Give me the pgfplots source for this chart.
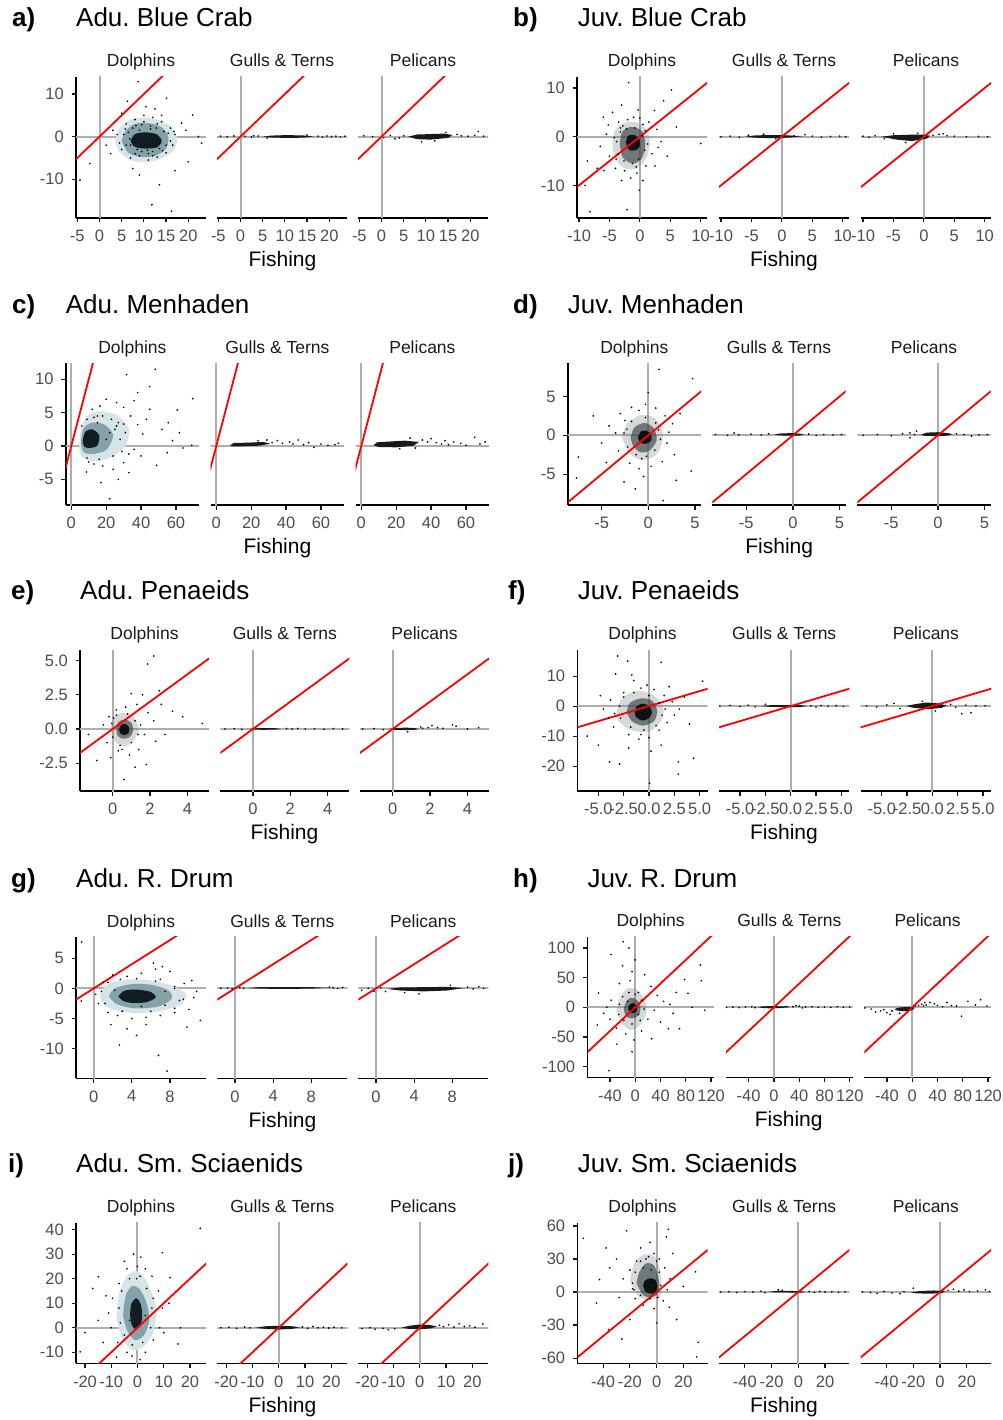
\documentclass[border=0pt]{standalone}
\usepackage{fontspec}
\setmainfont{Liberation Sans}
\usepackage{pgfplots}
\pgfplotsset{compat=1.18}
\frenchspacing
\definecolor{gray30}{HTML}{4D4D4D}
\definecolor{gray10}{HTML}{1A1A1A}
\definecolor{zlc}{HTML}{AEAEAE}
\definecolor{hteal}{RGB}{214,228,231}
\definecolor{mteal}{RGB}{96,134,143}
\definecolor{cteal}{RGB}{16,30,35}
\definecolor{hdark}{RGB}{120,130,132}
\definecolor{mdark}{RGB}{45,55,58}
\definecolor{cdark}{RGB}{12,18,20}
\newcommand\tickfont{\fontsize{16.5}{16.5}\selectfont}
\newcommand\stripfont{\fontsize{17.5}{17.5}\selectfont}
\newcommand\titlefont{\fontsize{26}{26}\selectfont}
\newcommand\labfont{\fontsize{21}{21}\selectfont}

\pgfplotsset{
  base/.style={scale only axis, anchor=south west, clip=true,
    axis x line*=bottom, axis y line*=left,
    axis line style={line width=1.6pt, black},
    tick align=outside, major tick length=4.5pt,
    tick style={line width=1.2pt, color=gray!20!black},
    tick label style={font=\tickfont, text=gray30, inner sep=0pt},
    xticklabel style={yshift=-7.5pt},
    yticklabel style={xshift=-7.5pt},
    /pgf/number format/assume math mode=true},
  noy/.style={axis y line=none, ytick=\empty},
  onedec/.style={/pgf/number format/fixed, /pgf/number format/fixed zerofill, /pgf/number format/precision=1},
  zl/.style={line width=2pt, color=zlc},
  idl/.style={line width=1.8pt, color=red},
  dots/.style={only marks, mark=*, mark size=0.65pt, mark options={draw=none, fill=black, fill opacity=0.42}},
  band/.style={fill=black!90, draw=none},
  Hteal/.style={fill=hteal, draw=none, smooth},
  Mteal/.style={fill=mteal, fill opacity=0.7, draw=none, smooth},
  Cteal/.style={fill=cteal, draw=none, smooth},
  Hdark/.style={fill=hdark, fill opacity=0.3, draw=none, smooth},
  Mdark/.style={fill=mdark, fill opacity=0.6, draw=none, smooth},
  Cdark/.style={fill=cdark, draw=none, smooth},
  pa/.style={xmin=-5.3, xmax=24, ymin=-19.1, ymax=14, xtick={-5,0,5,10,15,20}, ytick={-10,0,10}},
  pb/.style={xmin=-10.33, xmax=11.04, ymin=-16.7, ymax=12.26, xtick={-10,-5,0,5,10}, ytick={-10,0,10}},
  pc/.style={xmin=-3.2, xmax=73.2, ymin=-8.85, ymax=12.4, xtick={0,20,40,60}, ytick={-5,0,5,10}},
  pd/.style={xmin=-8.64, xmax=5.65, ymin=-8.97, ymax=9.27, xtick={-5,0,5}, ytick={-5,0,5}},
  pe/.style={xmin=-1.75, xmax=5.16, ymin=-4.54, ymax=5.78, xtick={0,2,4}, ytick={-2.5,0,2.5,5}, yticklabel style={onedec}},
  pf/.style={xmin=-7.08, xmax=5.79, ymin=-28.3, ymax=18.7, xtick={-5,-2.5,0,2.5,5}, ytick={-20,-10,0,10}, xticklabel style={onedec}},
  pg/.style={xmin=-1.86, xmax=11.79, ymin=-14.9, ymax=8.56, xtick={0,4,8}, ytick={-10,-5,0,5}},
  ph/.style={xmin=-75.8, xmax=124.3, ymin=-118, ymax=119, xtick={-40,0,40,80,120}, ytick={-100,-50,0,50,100}},
  pi/.style={xmin=-23.4, xmax=26.1, ymin=-14.5, ymax=42.8, xtick={-20,-10,0,10,20}, ytick={-10,0,10,20,30,40}},
  pj/.style={xmin=-59.3, xmax=38.1, ymin=-64.7, ymax=62.9, xtick={-40,-20,0,20}, ytick={-60,-30,0,30,60}},
}
% zero lines and the 1:1 line, each given the span of its panel
\newcommand\guides[2]{\addplot[zl] coordinates {(#1,0) (#2,0)};\addplot[zl] coordinates {(0,#1) (0,#2)};}
\newcommand\idline[2]{\addplot[idl] coordinates {(#1,#1) (#2,#2)};}

\begin{document}
\begin{tikzpicture}
\path[use as bounding box] (0,0) rectangle (1002pt,-1420pt);

% ---------------- a) Adu. Blue Crab
\begin{axis}[base,pa,at={(76pt,-218pt)},width=130pt,height=141pt]
\guides{-25}{30}
\addplot[Hteal] coordinates {(3.5,-1) (4.5,2) (7,4) (10,4.5) (13,4) (16,2.5) (17.5,-0.5) (16.5,-3.5) (13,-5.5) (10,-6) (7,-5.5) (4.5,-3.5) (3.5,-1)};
\addplot[Mteal] coordinates {(5,-1) (6,1.5) (8,3) (11,3.2) (14,2.2) (15.5,0) (15,-2.8) (12.5,-4.5) (9.5,-4.8) (6.5,-3.8) (5,-1)};
\addplot[Cteal] coordinates {(7,-1) (8,0.6) (10.5,1) (13,0.5) (14,-1) (13,-2.5) (10,-2.8) (7.8,-2.3) (7,-1)};
\addplot[dots] coordinates {(8.7,12.9) (15.1,9) (21,5.1) (11.8,-16) (16.2,-17.5) (-4.4,-10.2) (-2.2,-6.3) (13.5,-11.3) (20,-5.9) (22.3,0) (6.3,8.3) (18.5,3.2) (19.5,1.5) (2.5,-4) (1.5,-2) (3,1.5) (17,-8) (9,-9) (7.5,-7.5) (12.5,6.5) (14,5) (5,5.5) (10.5,7) (23,-1.5) (4,0.5) (5,-3) (6,3) (7,-5) (8,4) (9,-4.5) (10,5) (11,-5.5) (12,4.5) (13,-4.8) (14,3.5) (15,-3.8) (16,2) (16.5,-2) (17,0.5) (4.5,-1.5) (6.5,1) (8.5,-3) (11.5,2.5) (13.5,-2.8) (15.5,0.8) (9.5,2.8) (7,-2) (12,-3.5)};
\addplot[dots] coordinates {(5.5,0.5) (6,-2) (7.5,2) (8,-4) (9,1.5) (9.5,-3.5) (10,3.5) (11,-4) (11.5,1.8) (12,-4.5) (13,3) (13.5,-1.5) (14.5,1.2) (15,-2) (16,-1) (6.8,-0.5) (8.2,2.6) (10.8,-3.2) (12.8,2) (14.2,-3.3) (5.8,1.8) (16.8,1.2)};
\idline{-25}{30}
\end{axis}
\begin{axis}[base,pa,noy,at={(217pt,-218pt)},width=130pt,height=141pt]
\guides{-25}{30}
\addplot[band] coordinates {(5,0) (7,0.25) (10,0.35) (14,0.3) (16.5,0.05) (14,-0.25) (10,-0.3) (7,-0.2) (5,0)};
\addplot[dots] coordinates {(-4.5,0.1) (-3,0) (-1.5,0.15) (1,0.1) (2.5,-0.1) (4,0.15) (17.5,0.1) (18.5,-0.1) (19.5,0.15) (20.5,0) (21.5,0.1) (22.5,-0.05) (23.5,0.1) (6,-0.35) (15,0.4) (3,0.2)};
\idline{-25}{30}
\end{axis}
\begin{axis}[base,pa,noy,at={(358pt,-218pt)},width=130pt,height=141pt]
\guides{-25}{30}
\addplot[band] coordinates {(6,0) (8,0.5) (11,0.6) (14,0.7) (16,0.4) (15,-0.3) (11,-0.7) (8,-0.6) (6,0)};
\addplot[dots] coordinates {(-4,0.2) (-2,0) (0.5,-0.2) (2,0.3) (4,-0.3) (5,0.2) (17,0.5) (18,0.2) (19.5,0.1) (21,0.3) (21.8,1.2) (23,0.1) (9,-1.2) (12,-1) (14.5,1) (3,-0.5)};
\idline{-25}{30}
\end{axis}

% ---------------- b) Juv. Blue Crab
\begin{axis}[base,pb,at={(577pt,-218pt)},width=130pt,height=141pt]
\guides{-20}{20}
\addplot[Hdark] coordinates {(-4.5,-1.5) (-4,1.5) (-2,3) (0.3,2.5) (1.6,0) (1.2,-4) (-0.5,-6.5) (-2.8,-6.3) (-4.2,-4) (-4.5,-1.5)};
\addplot[Mdark] coordinates {(-3.3,-1.5) (-2.9,1) (-1.5,2) (0.3,1.2) (0.9,-1.5) (0.3,-4.5) (-1.2,-5.5) (-2.8,-4.3) (-3.3,-1.5)};
\addplot[Cdark] coordinates {(-2.3,-1.2) (-1.9,0.2) (-0.8,0.3) (0,-0.8) (-0.1,-2.2) (-0.8,-2.8) (-1.8,-2.7) (-2.3,-1.2)};
\addplot[dots] coordinates {(-1.84,11.1) (5.2,9.6) (3.9,7.4) (2.4,5.4) (-5.2,2.4) (10,-1.4) (-8.2,-15.4) (-2.1,-15) (-0.1,-11) (-5.9,-7) (-8.6,-5) (-0.3,5.5) (-1,4) (1.5,3) (2.8,1.5) (3.5,-1) (2,-3.5) (1,-6) (-0.5,-7.5) (-2.5,-7) (-4,-6.5) (-5,-4) (-6.5,-2) (-5.5,0.5) (-3.5,3) (-2,3.5) (0.5,2.5) (-7,-6.5) (4.5,-4) (-3,-9) (0.5,-9) (6,2) (-9,-10) (-4.5,5) (0,3.8) (-3.2,1.8) (1.3,-1.5) (-1.5,-8.5) (2.5,-6) (-6,4) (-3,6.5) (3,-2.2)};
\addplot[dots] coordinates {(-3.8,-1) (-3.2,1) (-2.2,1.6) (-0.8,1.8) (0.4,0.2) (0.8,-2.8) (-0.2,-4.6) (-1.2,-5.5) (-2.6,-5) (-3.6,-3.6) (-4.2,-0.2) (0.9,1.2) (-2.8,2.2) (-3.9,-4.6) (-0.6,-6.2)};
\idline{-20}{20}
\end{axis}
\begin{axis}[base,pb,noy,at={(719pt,-218pt)},width=130pt,height=141pt]
\guides{-20}{20}
\addplot[band] coordinates {(-6,0) (-4.5,0.25) (-2,0.35) (0.5,0.3) (3.5,0.1) (1,-0.2) (-2,-0.3) (-4.5,-0.2) (-6,0)};
\addplot[dots] coordinates {(-10,0) (-8.5,0.1) (-7,-0.1) (-5.5,0.3) (2,0.2) (3.8,0.4) (5,0.1) (6.5,-0.1) (8,0.05) (9.5,0.1) (10.5,0) (-3,0.5) (-1,-0.4)};
\idline{-20}{20}
\end{axis}
\begin{axis}[base,pb,noy,at={(861pt,-218pt)},width=130pt,height=141pt]
\guides{-20}{20}
\addplot[band] coordinates {(-7,0) (-5,0.3) (-2.5,0.4) (0,0.4) (1,0.2) (0.5,-0.4) (-2,-0.9) (-4.5,-0.6) (-7,0)};
\addplot[dots] coordinates {(-10,0.1) (-9,-0.1) (-8,0.2) (-6.5,-0.4) (1.5,0.3) (2.5,0.5) (3.2,0.6) (3.8,0.2) (5,0.1) (7,0) (9,0.05) (10.5,0) (-3,-1.2) (-1,0.7) (-5,0.6)};
\idline{-20}{20}
\end{axis}

% ---------------- c) Adu. Menhaden
\begin{axis}[base,pc,at={(65.7pt,-505pt)},width=133.3pt,height=141.7pt]
\guides{-10}{80}
\addplot[Hteal] coordinates {(4.5,0) (5.5,2.5) (9,4.5) (17,5.2) (27,4.5) (33,2.5) (31,0) (22,-1.8) (12,-2.3) (6,-1.6) (4.5,0)};
\addplot[Mteal] coordinates {(5.5,0.5) (7,2.6) (12,3.5) (19,3.2) (24,1.6) (20,-0.6) (12,-1.2) (7,-0.9) (5.5,0.5)};
\addplot[Cteal] coordinates {(6.5,0.8) (8,2.1) (12,2.5) (16,1.6) (15,0.1) (11,-0.3) (7.5,-0.1) (6.5,0.8)};
\addplot[dots] coordinates {(48.1,11.5) (31.7,10.7) (44.9,8.9) (69.6,7.1) (60.8,5.4) (55.6,3.5) (48.9,-2.9) (22,-7.9) (8.7,-3.9) (69,0.1) (16.4,6) (20,7) (26,6.5) (30,5.8) (34,4.5) (38,3.2) (41,1.8) (36,-0.5) (40,-1.5) (30,-2.5) (24,-3.5) (18,-3) (13,-2.7) (10,-2.4) (45,5.5) (52,2.5) (58,0.8) (64,-0.3) (26,3) (22,2) (28,1) (33,-1.2) (15,4.5) (12,5.5) (36,6.8) (43,4) (27,-5) (33,-4) (17,-5.5) (38,8) (55,-1) (62,2)};
\addplot[dots] coordinates {(6,3) (9,4) (13,4.3) (18,4.5) (23,4) (27,3.5) (31,2) (29,-0.8) (24,-1.5) (16,-2) (9,-1.8) (20,1) (25,2.5) (15,3.5) (30,3.3)};
\idline{-10}{15}
\end{axis}
\begin{axis}[base,pc,noy,at={(210.7pt,-505pt)},width=133.3pt,height=141.7pt]
\guides{-10}{80}
\addplot[band] coordinates {(8,0.1) (10,0.45) (18,0.5) (27,0.6) (31,0.35) (25,0.05) (15,-0.05) (9,-0.05) (8,0.1)};
\addplot[dots] coordinates {(32,0.5) (35,0.8) (38,0.4) (42,0.6) (44,0.3) (47,0.9) (50,0.2) (53,0.5) (56,-0.2) (60,0.3) (64,0.1) (68,0.2) (70,0.4) (29,0.9) (24,0.8)};
\idline{-10}{15}
\end{axis}
\begin{axis}[base,pc,noy,at={(355.7pt,-505pt)},width=133.3pt,height=141.7pt]
\guides{-10}{80}
\addplot[band] coordinates {(7,0.1) (9,0.55) (15,0.65) (25,0.8) (33,0.6) (30,0.05) (20,-0.2) (10,-0.15) (7,0.1)};
\addplot[dots] coordinates {(35,0.9) (38,0.6) (40,1.1) (43,0.5) (46,0.3) (48,0.8) (50,0.2) (53,0.6) (57,0.4) (60,0.1) (65,1.3) (68,0.3) (71,0.6) (28,1.2) (22,-0.4) (31,-0.3)};
\idline{-10}{15}
\end{axis}

% ---------------- d) Juv. Menhaden
\begin{axis}[base,pd,at={(567.7pt,-505pt)},width=133.3pt,height=141.7pt]
\guides{-10}{10}
\addplot[Hdark] coordinates {(-2.8,-0.3) (-2.3,1.5) (-0.8,2.6) (0.7,2.2) (1.6,0.2) (1,-2.3) (-0.5,-3.2) (-2,-2.4) (-2.8,-0.3)};
\addplot[Mdark] coordinates {(-1.9,-0.3) (-1.5,1) (-0.4,1.6) (0.6,0.9) (0.9,-0.6) (0.2,-1.9) (-0.8,-2.2) (-1.6,-1.4) (-1.9,-0.3)};
\addplot[Cdark] coordinates {(-1.1,-0.3) (-0.8,0.5) (-0.2,0.6) (0.3,0.1) (0.3,-0.7) (-0.3,-1.1) (-0.9,-0.9) (-1.1,-0.3)};
\addplot[dots] coordinates {(1.15,8.5) (4.75,7.3) (-5.9,2.5) (-7.5,-2.8) (-7.7,-5.5) (1.6,-8.4) (4.6,-4.6) (-2.6,-6) (-1.4,-6.9) (-0.3,4) (-1,3.2) (0.8,3.5) (1.8,2.5) (2.6,1.5) (3.4,2.8) (2,-1) (2.8,-2.5) (1.5,-3.4) (0.3,-4) (-1,-4.3) (-2,-3.6) (-3.2,-2) (-3.5,0.3) (-4.2,1.2) (-3,2.8) (-1.8,3.6) (-5,-1) (-4.5,-3.5) (0,5.5) (3,-5.8) (-0.5,-5.3) (2.2,0.4) (-2.5,1.9)};
\addplot[dots] coordinates {(-2.3,0.8) (-1.8,1.8) (-0.3,2.3) (0.8,1.6) (1.3,-0.5) (0.7,-1.9) (-0.2,-2.7) (-1.3,-2.5) (-2.2,-1.5) (-2.6,0.3) (1.1,0.7) (-0.7,-3)};
\idline{-10}{10}
\end{axis}
\begin{axis}[base,pd,noy,at={(712.3pt,-505pt)},width=133.3pt,height=141.7pt]
\guides{-10}{10}
\addplot[band] coordinates {(-2,0.1) (-1.3,0.25) (0,0.28) (0.8,0.2) (1.2,0.1) (0.6,-0.05) (-0.5,-0.05) (-1.6,0) (-2,0.1)};
\addplot[dots] coordinates {(-8.3,0.1) (-7,0) (-5.8,0.05) (-4.5,0.15) (-3.4,0.05) (-2.6,0.2) (1.7,0.15) (2.5,0) (3.3,0.1) (4.3,0.05) (5.2,0.1) (-6.3,0.3)};
\idline{-10}{10}
\end{axis}
\begin{axis}[base,pd,noy,at={(857.3pt,-505pt)},width=133.3pt,height=141.7pt]
\guides{-10}{10}
\addplot[band] coordinates {(-1.8,0.1) (-1.2,0.35) (0,0.4) (1,0.3) (1.6,0.15) (1,-0.05) (-0.5,-0.1) (-1.5,-0.05) (-1.8,0.1)};
\addplot[dots] coordinates {(-8,0) (-6.5,0.1) (-5,-0.05) (-3.8,0.2) (-3,0.3) (-2.3,0.55) (2,0.2) (2.8,0.1) (3.6,-0.1) (4.4,0.05) (-3,-0.3) (-2.5,0.1) (5.3,0.1)};
\idline{-10}{10}
\end{axis}

% ---------------- e) Adu. Penaeids
\begin{axis}[base,pe,at={(80pt,-791pt)},width=129pt,height=141pt]
\guides{-6}{7}
\addplot[Hdark] coordinates {(-0.1,0) (0.05,0.8) (0.5,1.2) (1.1,0.9) (1.4,0) (1.1,-0.9) (0.6,-1.3) (0.1,-0.9) (-0.1,0)};
\addplot[Mdark] coordinates {(0.2,0) (0.3,0.5) (0.65,0.7) (1,0.45) (1.1,-0.1) (0.9,-0.6) (0.5,-0.7) (0.25,-0.45) (0.2,0)};
\addplot[Cdark] coordinates {(0.35,-0.05) (0.45,0.3) (0.7,0.35) (0.88,0.1) (0.85,-0.3) (0.6,-0.45) (0.4,-0.3) (0.35,-0.05)};
\addplot[dots] coordinates {(2.2,5.34) (1.87,4.75) (3.75,0.9) (4.8,0.4) (1.8,-2.6) (-0.85,-2.3) (-0.1,-2.1) (0.6,-3.7) (0.05,0.8) (1.3,1.8) (1.6,2.5) (2.6,1.8) (2.2,0.6) (1.7,-0.4) (2.3,-0.9) (1.4,-1.5) (0.9,-1.9) (0.3,-1.6) (-0.3,-1) (-0.5,0.3) (-0.2,0.9) (0.7,1.6) (1,2.6) (3.2,1.3) (2.8,-0.4) (-1.3,-0.4) (1.9,1.2) (0.2,1.4) (2.5,2.8) (1.2,-2.8)};
\addplot[dots] coordinates {(-0.05,0.4) (0.2,1) (0.8,1.1) (1.2,0.6) (1.35,-0.4) (1,-1) (0.4,-1.2) (0,-0.6) (1.5,0.3) (0.5,-1.5)};
\idline{-6}{7}
\end{axis}
\begin{axis}[base,pe,noy,at={(220.3pt,-791pt)},width=129pt,height=141pt]
\guides{-6}{7}
\addplot[band] coordinates {(-0.2,0) (0.1,0.05) (0.7,0.07) (1.3,0.05) (1.5,0) (1.2,-0.05) (0.5,-0.06) (0,-0.04) (-0.2,0)};
\addplot[dots] coordinates {(-1.5,0) (-1,0.02) (-0.6,-0.03) (1.8,0.03) (2.1,0) (2.4,0.04) (2.8,0) (3.3,0.02) (3.8,-0.02) (4.3,0.03) (4.8,0)};
\idline{-6}{7}
\end{axis}
\begin{axis}[base,pe,noy,at={(360pt,-791pt)},width=129pt,height=141pt]
\guides{-6}{7}
\addplot[band] coordinates {(-0.2,0) (0.2,0.07) (0.7,0.1) (1.2,0.06) (1.4,0) (1.1,-0.07) (0.5,-0.08) (0,-0.05) (-0.2,0)};
\addplot[dots] coordinates {(-1.6,0) (-1,0.03) (-0.5,-0.05) (1.6,0.05) (1.9,0.1) (2.1,0.25) (2.4,0.1) (2.7,0.05) (3.2,0.3) (3.4,0.2) (4,0) (4.6,0.1) (0.8,-0.2) (1.5,0.15)};
\idline{-6}{7}
\end{axis}

% ---------------- f) Juv. Penaeids
\begin{axis}[base,pf,at={(577.3pt,-791pt)},width=130.3pt,height=141pt]
\guides{-30}{20}
\addplot[Hdark] coordinates {(-3.2,-2) (-2.7,2.5) (-1.3,5) (0.3,4) (1.4,0) (1.2,-5) (0,-8.5) (-1.8,-8) (-3,-5) (-3.2,-2)};
\addplot[Mdark] coordinates {(-2.2,-2) (-1.9,1) (-0.8,2.6) (0.3,1.8) (0.8,-1.5) (0.5,-5) (-0.6,-6.5) (-1.7,-5) (-2.2,-2)};
\addplot[Cdark] coordinates {(-1.4,-2) (-1.2,0) (-0.6,0.8) (0,0) (0.3,-2) (0,-4) (-0.7,-4.8) (-1.3,-3.5) (-1.4,-2)};
\addplot[dots] coordinates {(-3.1,16.7) (-2.1,15) (1.2,14.6) (-3.3,10.7) (-1.7,10.4) (5.3,8.3) (-3.9,-18.6) (-2.9,-19.3) (2.9,-18.6) (4.4,-17.4) (2.9,-22.7) (0.06,-25.7) (-6.1,-10) (-0.2,7) (-0.8,6) (0.5,5.5) (1.5,3.5) (2.3,1.5) (3,-1) (2.5,-3) (1.8,-5.5) (1,-8) (0,-10.5) (-1,-11) (-2,-9.5) (-3.5,-7) (-4,-4) (-4.5,-1) (-3.8,2) (-2.5,4.5) (-4.8,3.5) (-5,-13) (1.2,-13) (3.5,3) (-1.5,8.5) (0.2,-15) (-2,-14) (2,6.5) (4,-6)};
\addplot[dots] coordinates {(-2.9,0) (-2.5,3) (-1.5,4.5) (0,3.5) (1,1) (1.3,-3) (0.7,-6.5) (-0.5,-8) (-1.8,-7) (-2.8,-4) (-3.4,-2.5) (1.6,-1) (-0.8,-9.5)};
\idline{-8}{7}
\end{axis}
\begin{axis}[base,pf,noy,at={(719pt,-791pt)},width=130.3pt,height=141pt]
\guides{-30}{20}
\addplot[band] coordinates {(-3,0) (-2,0.3) (0,0.35) (1,0.3) (1.6,0) (1,-0.3) (-0.5,-0.35) (-2,-0.25) (-3,0)};
\addplot[dots] coordinates {(-7,0) (-6,0.2) (-5,-0.1) (-4.2,0.3) (-3.5,-0.2) (2,0.1) (2.5,-0.3) (3,0.2) (3.7,0) (4.5,0.15) (5.2,-0.1) (-2.5,0.6)};
\idline{-8}{7}
\end{axis}
\begin{axis}[base,pf,noy,at={(860.7pt,-791pt)},width=130.3pt,height=141pt]
\guides{-30}{20}
\addplot[band] coordinates {(-2.6,0) (-1.8,0.6) (-0.6,1.2) (0.6,0.9) (1.4,0.2) (0.9,-0.6) (-0.4,-1) (-1.8,-0.6) (-2.6,0)};
\addplot[dots] coordinates {(-6.5,0.1) (-5.5,-0.3) (-4.5,0.4) (-3.8,0.9) (-3.2,-0.8) (-1,1.6) (0.3,-1.6) (1.8,0.6) (2.3,-0.4) (2.9,-2.5) (3.8,-2.2) (3.3,0.3) (4.3,0.1) (5.2,0.1)};
\idline{-8}{7}
\end{axis}

% ---------------- g) Adu. R. Drum
\begin{axis}[base,pg,at={(76pt,-1078.3pt)},width=130pt,height=141.6pt]
\guides{-16}{13}
\addplot[Hteal] coordinates {(0.6,-1.3) (1.2,0.4) (3,1.4) (5.5,1.4) (8,0.6) (9.7,-1) (9,-2.8) (6.5,-3.9) (3.5,-4) (1.3,-3) (0.6,-1.3)};
\addplot[Mteal] coordinates {(1.6,-1.3) (2.2,0) (4,0.7) (6,0.6) (7.8,-0.3) (8.2,-1.7) (6.8,-3) (4.3,-3.3) (2.4,-2.6) (1.6,-1.3)};
\addplot[Cteal] coordinates {(2.6,-1.3) (3.2,-0.4) (4.5,-0.2) (6,-0.6) (6.5,-1.5) (5.5,-2.3) (4,-2.4) (3,-2) (2.6,-1.3)};
\addplot[dots] coordinates {(-1.26,7.7) (6.27,4.2) (7.2,3.6) (10.3,1.3) (11.2,-5.3) (9.8,-6.4) (3.5,-6.7) (4.5,-7.8) (2.7,-9.4) (6.8,-11.1) (7.7,-13.7) (-1.3,-2.1) (0.5,-2.5) (1,1) (2,2.2) (3.5,2) (5,2.5) (7,1.5) (8.5,0.3) (9.5,0.8) (10.5,-1.5) (10,-3.5) (8.5,-4) (7,-4.5) (5.5,-4.8) (4,-5) (2.5,-4.5) (1.5,-4) (0.2,-1) (9,-2) (8,2.8) (10.8,-0.5) (5.5,-6) (1.8,-6) (6.5,3.2) (3,-3.8) (7.5,-2.8)};
\addplot[dots] coordinates {(0.8,-0.5) (1.5,1) (2.8,1.5) (4.5,1.6) (6.5,1.2) (8.5,0) (9.4,-1.8) (8.5,-3.3) (6,-3.8) (3,-3.8) (1.2,-2.5) (5,-3) (7.5,-0.5) (2.2,-0.3)};
\idline{-16}{13}
\end{axis}
\begin{axis}[base,pg,noy,at={(217.3pt,-1078.3pt)},width=130pt,height=141.6pt]
\guides{-16}{13}
\addplot[band] coordinates {(1.3,0.05) (2.5,0.2) (5,0.22) (8,0.2) (9.8,0.1) (8,-0.05) (5,-0.08) (2.5,-0.05) (1.3,0.05)};
\addplot[dots] coordinates {(-1.5,0) (-0.8,0.05) (-0.3,-0.05) (0.5,0.1) (10.3,0.1) (10.8,0) (11.3,0.15) (0.9,0) (9.9,0.2)};
\idline{-16}{13}
\end{axis}
\begin{axis}[base,pg,noy,at={(358.3pt,-1078.3pt)},width=130pt,height=141.6pt]
\guides{-16}{13}
\addplot[band] coordinates {(1.2,-0.1) (2.5,0.15) (5,0.2) (7.5,0.25) (9.2,0.05) (7.5,-0.35) (5,-0.5) (2.5,-0.35) (1.2,-0.1)};
\addplot[dots] coordinates {(-1.5,-0.3) (-0.8,0) (-0.2,-0.5) (0.5,0.1) (9.6,0.2) (10.2,-0.1) (10.8,0.3) (11.3,0) (7.8,0.5) (4.5,-0.9) (3,-0.7) (1,-0.5)};
\idline{-16}{13}
\end{axis}

% ---------------- h) Juv. R. Drum
\begin{axis}[base,ph,at={(587.3pt,-1077.3pt)},width=126.5pt,height=140.6pt]
\guides{-130}{130}
\addplot[Hdark] coordinates {(-30,-5) (-25,15) (-12,32) (2,30) (15,12) (18,-8) (8,-30) (-8,-38) (-22,-25) (-30,-5)};
\addplot[Mdark] coordinates {(-18,-3) (-15,8) (-8,16) (2,13) (8,3) (7,-10) (0,-18) (-10,-18) (-16,-12) (-18,-3)};
\addplot[Cdark] coordinates {(-11,-2) (-9,4) (-4,7) (1,4) (3,-2) (1,-8) (-5,-10) (-9,-7) (-11,-2)};
\addplot[dots] coordinates {(-19,110.6) (-38.4,89) (-10,100) (103,71.3) (104.5,44.8) (78,47) (83.5,23.5) (-58,24) (70,-36) (-41.5,-107) (-29,-62) (26,-53) (52.5,-36) (-5,60) (-8,45) (0,80) (15,55) (25,35) (35,20) (45,10) (55,5) (30,-5) (20,-20) (10,-40) (-2,-55) (-15,-45) (-30,-35) (-40,-20) (-45,0) (-38,12) (-25,40) (-50,-10) (-60,-30) (90,0) (60,-10) (-20,70) (5,25) (40,-25) (-5,-75) (110,-5) (65,25)};
\addplot[dots] coordinates {(-25,5) (-20,18) (-10,25) (0,22) (10,12) (14,-3) (8,-22) (-5,-28) (-18,-22) (-26,-12) (5,-12) (-12,10)};
\idline{-130}{130}
\end{axis}
\begin{axis}[base,ph,noy,at={(726pt,-1077.3pt)},width=126.5pt,height=140.6pt]
\guides{-130}{130}
\addplot[band] coordinates {(-25,0) (-18,1.6) (-5,2) (5,1.8) (15,1.5) (22,2.5) (24,0) (10,-1.2) (-5,-1.8) (-18,-1.2) (-25,0)};
\addplot[dots] coordinates {(-75,0) (-65,0.5) (-55,-0.5) (-45,0.5) (-35,0.8) (-30,-0.5) (30,1) (40,2) (50,0.5) (60,1) (70,0) (80,0.5) (90,0) (100,1) (110,0) (120,0.5) (35,3) (45,-1)};
\idline{-130}{130}
\end{axis}
\begin{axis}[base,ph,noy,at={(864.3pt,-1077.3pt)},width=126.5pt,height=140.6pt]
\guides{-130}{130}
\addplot[band] coordinates {(-28,-3) (-22,-0.5) (-10,0.5) (0,0.5) (4,-1) (0,-5) (-12,-6.5) (-24,-5.5) (-28,-3)};
\addplot[dots] coordinates {(-75,-1) (-65,-3) (-58,-8) (-50,-6) (-45,-4) (-40,-9) (-35,-12) (-32,-6) (5,2) (10,3) (15,5) (18,2.5) (22,4) (28,8) (35,6) (40,3) (48,1) (55,8) (62,3) (70,2) (78,-15) (88,10) (100,4) (108,13) (118,2) (-20,-10) (20,8)};
\idline{-130}{130}
\end{axis}

% ---------------- i) Adu. Sm. Sciaenids
\begin{axis}[base,pi,at={(76pt,-1363.3pt)},width=130pt,height=140.6pt]
\guides{-25}{45}
\addplot[Hteal] coordinates {(-8,4) (-7,14) (-4,21) (0,23) (4,18) (7,8) (6,-2) (2,-8) (-2,-9) (-6,-4) (-8,4)};
\addplot[Mteal] coordinates {(-5.5,5) (-4.5,13) (-2,17) (1,15.5) (3.5,10) (4.5,3) (2.5,-3) (-1,-5) (-4,-1) (-5.5,5)};
\addplot[Cteal] coordinates {(-2.8,5) (-2.4,9.5) (-0.5,12) (1.3,9.5) (1.8,4.5) (1,0.5) (-1,-0.5) (-2.3,1.5) (-2.8,5)};
\addplot[dots] coordinates {(23.9,40.5) (-1.5,30) (1.3,28.8) (9.5,30.6) (-14.9,20.8) (12.4,20.4) (-17,16) (16.4,0) (15.4,-6.6) (-20,-2) (-21.8,-9.8) (-2.1,-11.5) (0,25) (-0.3,20) (-4,24) (3,24) (5.5,21) (8,15) (9.5,8) (8.5,0) (6,-5) (3,-10) (-4,-10) (-7.5,-6) (-10,0) (-11,6) (-9.5,12) (-7,18) (-12,13) (10,-2) (-5,27) (6,12) (-13,-6) (-8,-12) (1,-13) (12,10) (-15,3)};
\addplot[dots] coordinates {(-7,8) (-6,15) (-3,20) (1,21) (3.5,16) (5.5,8) (5,0) (2,-6) (-2,-7) (-5,-3) (-6.5,2) (3,5) (-3,3)};
\idline{-25}{45}
\end{axis}
\begin{axis}[base,pi,noy,at={(217.3pt,-1363.3pt)},width=130pt,height=140.6pt]
\guides{-25}{45}
\addplot[band] coordinates {(-9,0) (-5,0.6) (0,0.8) (5,0.6) (8,0.2) (5,-0.5) (0,-0.7) (-5,-0.5) (-9,0)};
\addplot[dots] coordinates {(-22,0) (-19,0.2) (-16,-0.2) (-13,0.3) (-11,0) (9,0.3) (11,-0.2) (13,0.5) (15,0) (17,0.2) (19,-0.1) (21,0.2) (24,0)};
\idline{-25}{45}
\end{axis}
\begin{axis}[base,pi,noy,at={(358.3pt,-1363.3pt)},width=130pt,height=140.6pt]
\guides{-25}{45}
\addplot[band] coordinates {(-7,0) (-4,0.8) (0,1.3) (4,1.1) (6.5,0.5) (4,-0.3) (0,-0.6) (-4,-0.5) (-7,0)};
\addplot[dots] coordinates {(-22,-0.3) (-19,0) (-17,-0.6) (-14,-0.2) (-12,-0.8) (-9.5,-0.4) (7.5,1) (9,0.5) (11,1.2) (13,0.3) (15,1.6) (17,0.5) (19,0.8) (21,0.2) (24,1.5)};
\idline{-25}{45}
\end{axis}

% ---------------- j) Juv. Sm. Sciaenids
\begin{axis}[base,pj,at={(577.3pt,-1363.3pt)},width=130.3pt,height=140.6pt]
\guides{-70}{70}
\addplot[Hdark] coordinates {(-20,10) (-17,25) (-10,34) (-1,32) (3,16) (3,-3) (-4,-7) (-13,-5) (-20,10)};
\addplot[Mdark] coordinates {(-15,8) (-13,18) (-8,26) (-2,24) (1.5,12) (1.5,0) (-3,-4.5) (-10,-3) (-15,8)};
\addplot[Cdark] coordinates {(-10,5) (-9,10) (-5,12.5) (-1,11) (0.5,5) (-0.5,0) (-4,-1.5) (-8,0) (-10,5)};
\addplot[dots] coordinates {(-54.8,48.7) (-22.4,55.6) (8.7,56.8) (7.2,50) (-37.8,40) (-42.7,11.3) (29,18.4) (31,-45.7) (30,-59) (-26,-42.6) (-36,-34) (9.4,-13.8) (-2,35) (-8,30) (-15,28) (-20,20) (-25,12) (-18,3) (-16,-6) (-10,-12) (-2,-15) (5,-8) (8,2) (10,12) (6,22) (2,30) (-12,40) (-30,30) (-28,-5) (15,-25) (-5,45) (12,35) (-20,-25) (-45,-10) (20,5) (-35,22) (0,-28)};
\addplot[dots] coordinates {(-18,8) (-16,18) (-12,28) (-6,32) (0,28) (2,18) (3,6) (1,-5) (-5,-6) (-12,-3) (-17,2) (-10,22) (-4,20)};
\idline{-70}{70}
\end{axis}
\begin{axis}[base,pj,noy,at={(719pt,-1363.3pt)},width=130.3pt,height=140.6pt]
\guides{-70}{70}
\addplot[band] coordinates {(-22,0.3) (-15,1.2) (-5,1) (3,0.6) (5,0.2) (2,-0.6) (-8,-0.4) (-18,-0.3) (-22,0.3)};
\addplot[dots] coordinates {(-58,0) (-52,0.3) (-46,-0.5) (-40,0.4) (-34,0) (-28,0.8) (-25,-0.6) (8,0.4) (12,-0.2) (16,0.6) (20,0) (25,0.3) (30,-0.2) (35,0.2) (-15,2) (-12,1.6)};
\idline{-70}{70}
\end{axis}
\begin{axis}[base,pj,noy,at={(860.7pt,-1363.3pt)},width=130.3pt,height=140.6pt]
\guides{-70}{70}
\addplot[band] coordinates {(-22,-0.5) (-15,0.9) (-5,1.4) (1,1.3) (4,0.5) (1,-1) (-8,-1.5) (-18,-1.2) (-22,-0.5)};
\addplot[dots] coordinates {(-58,0.2) (-52,-0.5) (-47,-1.2) (-42,0.5) (-36,-0.8) (-30,-1.5) (-27,0.3) (-20,3.5) (6,1.5) (10,2.5) (14,0.8) (18,1.8) (22,0.5) (28,1.2) (34,2) (37,0.5)};
\idline{-70}{70}
\end{axis}

% ---------------- texts
\begin{scope}[every node/.style={inner sep=0pt, anchor=base west}]
\node[font=\bfseries\titlefont] at (12pt,-26.7pt) {a)};
\node[font=\titlefont] at (76pt,-26.7pt) {Adu. Blue Crab};
\node[font=\bfseries\titlefont] at (513pt,-26.7pt) {b)};
\node[font=\titlefont] at (577.7pt,-26.7pt) {Juv. Blue Crab};
\node[font=\bfseries\titlefont] at (12pt,-313.7pt) {c)};
\node[font=\titlefont] at (65.7pt,-313.7pt) {Adu. Menhaden};
\node[font=\bfseries\titlefont] at (513pt,-313.7pt) {d)};
\node[font=\titlefont] at (567.7pt,-313.7pt) {Juv. Menhaden};
\node[font=\bfseries\titlefont] at (11pt,-599.7pt) {e)};
\node[font=\titlefont] at (80pt,-599.7pt) {Adu. Penaeids};
\node[font=\bfseries\titlefont] at (508pt,-599.7pt) {f)};
\node[font=\titlefont] at (577.7pt,-599.7pt) {Juv. Penaeids};
\node[font=\bfseries\titlefont] at (11pt,-887pt) {g)};
\node[font=\titlefont] at (76pt,-887pt) {Adu. R. Drum};
\node[font=\bfseries\titlefont] at (513pt,-887pt) {h)};
\node[font=\titlefont] at (587.3pt,-887pt) {Juv. R. Drum};
\node[font=\bfseries\titlefont] at (8pt,-1172pt) {i)};
\node[font=\titlefont] at (76pt,-1172pt) {Adu. Sm. Sciaenids};
\node[font=\bfseries\titlefont] at (508pt,-1172pt) {j)};
\node[font=\titlefont] at (577.7pt,-1172pt) {Juv. Sm. Sciaenids};
\end{scope}

\begin{scope}[every node/.style={inner sep=0pt, anchor=base, font=\stripfont, text=gray10}]
\node at (141pt,-66.7pt) {Dolphins}; \node at (282pt,-66.7pt) {Gulls \& Terns}; \node at (423pt,-66.7pt) {Pelicans};
\node at (642pt,-66.7pt) {Dolphins}; \node at (784pt,-66.7pt) {Gulls \& Terns}; \node at (926pt,-66.7pt) {Pelicans};
\node at (132.4pt,-353.7pt) {Dolphins}; \node at (277.4pt,-353.7pt) {Gulls \& Terns}; \node at (422.4pt,-353.7pt) {Pelicans};
\node at (634.4pt,-353.7pt) {Dolphins}; \node at (779pt,-353.7pt) {Gulls \& Terns}; \node at (924pt,-353.7pt) {Pelicans};
\node at (144.5pt,-639.7pt) {Dolphins}; \node at (284.8pt,-639.7pt) {Gulls \& Terns}; \node at (424.5pt,-639.7pt) {Pelicans};
\node at (642.5pt,-639.7pt) {Dolphins}; \node at (784.2pt,-639.7pt) {Gulls \& Terns}; \node at (925.9pt,-639.7pt) {Pelicans};
\node at (141pt,-927pt) {Dolphins}; \node at (282.3pt,-927pt) {Gulls \& Terns}; \node at (423.3pt,-927pt) {Pelicans};
\node at (650.6pt,-926pt) {Dolphins}; \node at (789.3pt,-926pt) {Gulls \& Terns}; \node at (927.6pt,-926pt) {Pelicans};
\node at (141pt,-1212pt) {Dolphins}; \node at (282.3pt,-1212pt) {Gulls \& Terns}; \node at (423.3pt,-1212pt) {Pelicans};
\node at (642.5pt,-1212pt) {Dolphins}; \node at (784.2pt,-1212pt) {Gulls \& Terns}; \node at (925.9pt,-1212pt) {Pelicans};
\end{scope}

\begin{scope}[every node/.style={inner sep=0pt, anchor=base, font=\labfont}]
\node at (282.5pt,-266.7pt) {Fishing}; \node at (784pt,-266.7pt) {Fishing};
\node at (277.4pt,-553.7pt) {Fishing}; \node at (779.2pt,-553.7pt) {Fishing};
\node at (284.5pt,-839.7pt) {Fishing}; \node at (784pt,-839.7pt) {Fishing};
\node at (282.5pt,-1127pt) {Fishing}; \node at (788.7pt,-1126pt) {Fishing};
\node at (282.5pt,-1412pt) {Fishing}; \node at (784pt,-1412pt) {Fishing};
\end{scope}
\end{tikzpicture}
\end{document}
